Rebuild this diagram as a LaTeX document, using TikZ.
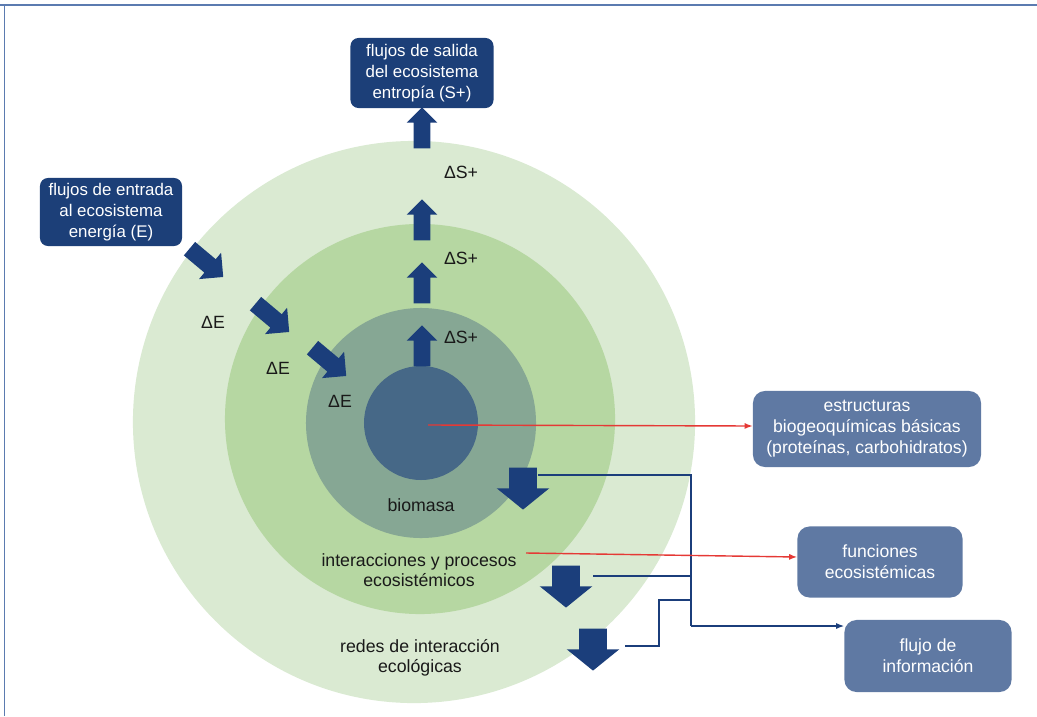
\documentclass[tikz,border=0pt]{standalone}
\usepackage{fontspec}
\setmainfont{Liberation Sans}
\usetikzlibrary{shapes.arrows,arrows.meta}
\definecolor{ringout}{HTML}{DAEAD2}
\definecolor{ringmid}{HTML}{B6D7A2}
\definecolor{ringin}{HTML}{86A794}
\definecolor{corecol}{HTML}{466887}
\definecolor{arrowblue}{HTML}{1B3E7B}
\definecolor{boxdark}{HTML}{1C3F78}
\definecolor{boxlight}{HTML}{5F79A3}
\definecolor{frameblue}{HTML}{5B7BB0}
\definecolor{linered}{HTML}{E53935}

\tikzset{
  ring/.style={circle, draw=none, inner sep=0pt},
  darkbox/.style={rectangle, rounded corners=0.2cm, fill=boxdark, text=white, align=center,
    inner sep=0pt, font=\fontsize{12}{15}\selectfont},
  lightbox/.style={rectangle, rounded corners=0.3cm, fill=boxlight, text=white, align=center,
    inner sep=0pt, font=\fontsize{12.5}{15}\selectfont},
  label/.style={align=center, text=black!90, font=\fontsize{12.6}{14.5}\selectfont},
  uparrow/.style={single arrow, fill=arrowblue, draw=none, inner xsep=0pt, inner ysep=0.2cm,
    rotate=90, minimum height=1.025cm, single arrow head extend=0.175cm,
    single arrow tip angle=90},
  diagarrow/.style={single arrow, fill=arrowblue, draw=none, inner xsep=0pt, inner ysep=0.2125cm,
    rotate=-40, minimum height=1.1cm, single arrow head extend=0.21cm,
    single arrow tip angle=90},
  downarrow/.style={single arrow, fill=arrowblue, draw=none, inner xsep=0pt, inner ysep=0.3375cm,
    rotate=-90, minimum height=1.05cm, single arrow head extend=0.3125cm,
    single arrow tip angle=102},
  flowline/.style={draw=arrowblue, line width=1pt},
  redline/.style={draw=linered, line width=1pt, -{Latex[length=0.2cm,width=0.15cm]}}
}

\begin{document}
\begin{tikzpicture}[x=0.025cm, y=-0.025cm]
\useasboundingbox (0,0) rectangle (1037,716);
% frame
\draw[frameblue, line width=1.2pt] (0,5) -- (1037,5);
\draw[frameblue, line width=0.6pt] (4,5) -- (4,716);

% rings
\node[ring, fill=ringout, minimum size=14.05cm] (redes) at (414,422) {};
\node[ring, fill=ringmid, minimum size=9.75cm] (procesos) at (420,419) {};
\node[ring, fill=ringin, minimum size=5.75cm] (biomasa) at (421,423) {};
\node[ring, fill=corecol, minimum size=2.85cm] (nucleo) at (421,423) {};

% entropy going out
\node[uparrow] (up1) at (422,132) {};
\node[uparrow] (up2) at (422,224) {};
\node[uparrow] (up3) at (422,287) {};
\node[uparrow] (up4) at (422,350) {};
\node[label] (ds1) at (461,172) {ΔS+};
\node[label] (ds2) at (461,258) {ΔS+};
\node[label] (ds3) at (461,337) {ΔS+};

% energy coming in
\node[diagarrow] (in1) at (203,260) {};
\node[diagarrow] (in2) at (269,315) {};
\node[diagarrow] (in3) at (326,359) {};
\node[label] (de1) at (213,322) {ΔE};
\node[label] (de2) at (278,368) {ΔE};
\node[label] (de3) at (340,401) {ΔE};

% information arrows
\node[downarrow] (outA) at (523,483) {};
\node[downarrow] (outB) at (566,581) {};
\node[downarrow] (outC) at (593,644) {};

% texts
\node[label] (tbio) at (421,505) {biomasa};
\node[label] (tproc) at (419,570) {interacciones y procesos\\ecosistémicos};
\node[label] (tredes) at (420,658) {redes de interacción\\ecológicas};

% boxes
\node[darkbox, minimum width=3.575cm, minimum height=1.75cm] (salida) at (422,73)
  {flujos de salida\\del ecosistema\\entropía (S+)};
\node[darkbox, minimum width=3.55cm, minimum height=1.7cm] (entrada) at (111,212)
  {flujos de entrada\\al ecosistema\\energía (E)};
\node[lightbox, minimum width=5.7cm, minimum height=1.9cm] (estructuras) at (867,429)
  {estructuras\\biogeoquímicas básicas\\(proteínas, carbohidratos)};
\node[lightbox, minimum width=4.125cm, minimum height=1.775cm] (funciones) at (880,562)
  {funciones\\ecosistémicas};
\node[lightbox, minimum width=4.175cm, minimum height=1.8cm] (informacion) at (928,656)
  {flujo de\\información};

% connectors
\coordinate (oA) at (538,475);
\coordinate (oB) at (593,576);
\coordinate (oC) at (625,646);
\coordinate (jA) at (691,475);
\coordinate (jB) at (691,576);
\coordinate (jC) at (691,600);
\coordinate (jD) at (691,626);
\coordinate (rA) at (428,425);
\coordinate (rB) at (526,553);
\draw[flowline] (oA) -- (jA) -- (jD);
\draw[flowline] (oB) -- (jB);
\draw[flowline] (oC) -- (659,646) -- (659,600) -- (jC);
\draw[flowline, -{Latex[length=0.2cm,width=0.15cm]}] (jD) -- (informacion.west |- jD);
\draw[redline] (rA) -- (estructuras.west |- 0,426);
\draw[redline] (rB) -- (funciones.west |- 0,557);
\end{tikzpicture}
\end{document}
